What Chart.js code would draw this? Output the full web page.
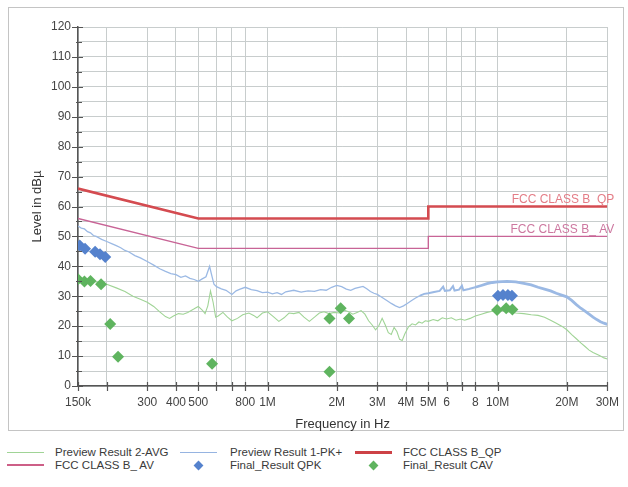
<!DOCTYPE html>
<html>
<head>
<meta charset="utf-8">
<script src="https://cdn.jsdelivr.net/npm/chart.js@4"></script>
<style>
  html,body{margin:0;padding:0;background:#fff;}
  body{width:628px;height:487px;position:relative;overflow:hidden;font-family:"Liberation Sans",Arial,sans-serif;}
  #wrap{position:absolute;left:0;top:0;width:628px;height:440px;}
  #legend{position:absolute;left:0;top:440px;width:628px;height:47px;font-size:11.5px;color:#3a3a3a;}
  .it{position:absolute;height:14px;line-height:14px;white-space:nowrap;}
  .ln{position:absolute;}
  .dm{position:absolute;width:7px;height:7px;transform:rotate(45deg);}
</style>
</head>
<body>
<div id="wrap"><canvas id="c" width="628" height="440"></canvas></div>
<div id="legend"></div>
<script>
// ---------- DATA ----------
const xGridValues = [150e3,200e3,300e3,400e3,500e3,600e3,700e3,800e3,1e6,2e6,3e6,4e6,5e6,6e6,7e6,8e6,10e6,20e6,30e6];
const xTickLabels = ['150k','','300','400','500','','','800','1M','2M','3M','4M','5M','6','','8','10M','20M','30M'];
const yMin = 0, yMax = 120, yStep = 5, yLabelStep = 10;

const qpLimitFreq  = [150e3, 500e3, 5e6, 5e6, 30e6];
const qpLimitLevel = [66, 56, 56, 60, 60];
const avLimitFreq  = [150e3, 500e3, 5e6, 5e6, 30e6];
const avLimitLevel = [56, 46, 46, 50, 50];

const pkFreq = [150e3,155e3,160e3,165e3,170e3,175e3,180e3,190e3,200e3,210e3,220e3,230e3,240e3,250e3,265e3,280e3,300e3,320e3,340e3,360e3,380e3,400e3,420e3,440e3,460e3,480e3,500e3,520e3,540e3,560e3,570e3,585e3,600e3,630e3,660e3,700e3,730e3,760e3,800e3,850e3,900e3,950e3,1.0e6,1.05e6,1.1e6,1.15e6,1.2e6,1.3e6,1.4e6,1.5e6,1.6e6,1.7e6,1.8e6,1.9e6,2.0e6,2.1e6,2.2e6,2.3e6,2.4e6,2.5e6,2.6e6,2.7e6,2.8e6,2.9e6,3.0e6,3.15e6,3.3e6,3.45e6,3.6e6,3.75e6,3.9e6,4.05e6,4.2e6,4.4e6,4.6e6,4.8e6,5.0e6,5.3e6,5.6e6,5.8e6,5.9e6,6.2e6,6.4e6,6.5e6,6.8e6,7.0e6,7.1e6,7.5e6,8.0e6,8.5e6,9.0e6,9.5e6,10e6,11e6,12e6,13e6,14e6,15e6,16e6,17e6,18e6,19e6,20e6,21e6,22e6,23e6,24e6,25e6,26e6,27e6,28e6,29e6,30e6];
const pkLevel = [53.5,52.8,52.5,51.6,51.2,50.3,50.0,49.0,48.3,47.6,46.9,46.2,45.3,44.8,43.6,42.8,41.6,40.4,39.2,38.3,37.6,37.2,36.3,36.8,36.0,35.6,35.0,35.8,36.5,40.0,37.5,34.0,33.2,32.5,32.0,30.6,31.8,32.4,33.0,32.2,31.9,31.2,31.4,30.8,31.2,30.6,31.5,32.0,31.4,31.8,31.6,32.2,32.0,33.0,33.6,33.2,32.4,32.0,32.6,33.0,33.3,32.5,31.6,31.0,30.6,29.6,28.6,27.6,26.8,26.2,26.8,27.6,28.4,29.4,30.2,30.8,31.0,31.4,31.8,33.2,31.8,32.0,33.4,31.9,32.2,33.5,32.0,32.4,33.0,33.6,34.2,34.6,34.8,35.0,34.8,34.3,33.8,33.0,32.4,31.8,31.0,30.4,29.8,28.6,27.2,26.0,25.0,24.0,23.0,22.2,21.5,21.0,20.6];

const avgFreq = [150e3,160e3,170e3,180e3,190e3,200e3,220e3,240e3,260e3,280e3,300e3,320e3,340e3,360e3,375e3,390e3,410e3,430e3,450e3,480e3,500e3,520e3,535e3,550e3,565e3,580e3,595e3,610e3,640e3,670e3,700e3,740e3,780e3,830e3,870e3,900e3,950e3,1.0e6,1.06e6,1.12e6,1.18e6,1.24e6,1.3e6,1.37e6,1.44e6,1.52e6,1.6e6,1.68e6,1.76e6,1.85e6,1.95e6,2.05e6,2.15e6,2.25e6,2.35e6,2.45e6,2.55e6,2.65e6,2.75e6,2.85e6,2.95e6,3.05e6,3.15e6,3.25e6,3.35e6,3.45e6,3.55e6,3.65e6,3.75e6,3.85e6,3.95e6,4.1e6,4.25e6,4.4e6,4.55e6,4.7e6,4.85e6,5.0e6,5.25e6,5.5e6,5.75e6,6.0e6,6.3e6,6.6e6,6.9e6,7.2e6,7.6e6,8.0e6,8.5e6,9.0e6,9.5e6,10e6,10.5e6,11e6,12e6,13e6,14e6,15e6,16e6,17e6,18e6,19e6,20e6,21e6,22e6,23e6,24e6,25e6,26e6,27e6,28e6,29e6,30e6];
const avgLevel = [36.5,35.6,35.3,34.8,34.2,34.0,32.8,31.6,30.0,29.0,28.0,26.6,24.8,23.2,22.6,23.4,24.2,24.0,24.6,25.8,26.6,25.4,24.2,26.8,31.8,28.0,23.0,23.4,24.6,23.0,21.8,22.6,23.8,24.4,23.6,22.8,24.4,24.8,23.2,21.6,22.8,24.4,24.2,24.6,23.0,21.6,23.0,24.4,24.8,24.2,24.6,24.4,25.4,24.8,24.0,24.6,25.2,24.0,21.8,20.4,18.8,20.2,22.6,20.4,17.8,17.2,19.6,18.2,15.6,15.2,17.4,19.8,20.8,20.4,21.4,21.0,21.8,21.6,22.2,21.8,22.8,22.4,22.8,22.0,22.4,22.0,22.6,23.4,24.0,24.6,25.0,25.4,25.2,24.8,24.4,24.2,23.8,23.6,23.0,22.0,21.0,20.0,18.8,17.2,15.8,14.4,13.2,12.0,11.2,10.6,10.0,9.4,9.0];

const qpkFreq  = [152.7e3, 161e3, 178e3, 187e3, 197e3, 10.04e6, 10.56e6, 11.09e6, 11.55e6];
const qpkLevel = [47.0, 45.9, 44.9, 44.0, 43.1, 30.2, 30.4, 30.4, 30.2];
const cavFreq  = [150e3, 160e3, 170e3, 189e3, 207e3, 224e3, 574e3, 1.86e6, 1.86e6, 2.08e6, 2.26e6, 9.95e6, 10.9e6, 11.6e6];
const cavLevel = [35.7, 34.9, 35.1, 34.0, 20.7, 9.8, 7.4, 4.8, 22.6, 26.0, 22.6, 25.4, 26.0, 25.6];

const limitLabels = ['FCC CLASS B_QP', 'FCC CLASS B_ AV'];
const legendItems = [
  {text:'Preview Result 2-AVG', kind:'line', color:'rgb(160,212,150)', w:1},
  {text:'Preview Result 1-PK+', kind:'line', color:'rgb(150,180,225)', w:1},
  {text:'FCC CLASS B_QP', kind:'line', color:'rgb(205,65,70)', w:3},
  {text:'FCC CLASS B_ AV', kind:'line', color:'rgb(205,95,135)', w:1.5},
  {text:'Final_Result QPK', kind:'diamond', color:'rgb(85,130,205)'},
  {text:'Final_Result CAV', kind:'diamond', color:'rgb(95,180,95)'}
];

// ---------- helpers ----------
const pts = (xs, ys) => xs.map((x, i) => ({x: x, y: ys[i]}));
const FONT = '"Liberation Sans", Arial, sans-serif';

const framePlugin = {
  id: 'frame',
  beforeDraw(chart) {
    const ctx = chart.ctx;
    ctx.save();
    ctx.fillStyle = '#fff';
    ctx.fillRect(0, 0, chart.width, chart.height);
    ctx.strokeStyle = '#c4c4c4';
    ctx.lineWidth = 1;
    ctx.strokeRect(8.5, 7.5, 615, 423);
    ctx.restore();
  },
  afterDraw(chart) {
    const ctx = chart.ctx;
    const xs = chart.scales.x, ys = chart.scales.y;
    const a = chart.chartArea;
    ctx.save();
    ctx.strokeStyle = '#555';
    ctx.lineWidth = 1.2;
    ctx.beginPath();
    xs.ticks.forEach(t => {
      const px = Math.round(xs.getPixelForValue(t.value)) + 0.5;
      ctx.moveTo(px, a.bottom - 4);
      ctx.lineTo(px, a.bottom + 5);
    });
    ys.ticks.forEach(t => {
      const py = Math.round(ys.getPixelForValue(t.value)) + 0.5;
      const major = t.value % yLabelStep === 0;
      ctx.moveTo(a.left - (major ? 6 : 2), py);
      ctx.lineTo(a.left + (major ? 5 : 4), py);
    });
    ctx.stroke();
    // limit labels
    ctx.font = '12px ' + FONT;
    ctx.textAlign = 'right';
    ctx.textBaseline = 'alphabetic';
    ctx.fillStyle = 'rgb(228,125,135)';
    ctx.fillText(limitLabels[0], a.right + 7, ys.getPixelForValue(qpLimitLevel[4]) - 4);
    ctx.fillStyle = 'rgb(205,120,160)';
    ctx.fillText(limitLabels[1], a.right + 7, ys.getPixelForValue(avLimitLevel[4]) - 3.5);
    ctx.restore();
  }
};

const diamond = (color) => ({
  type: 'scatter', showLine: false, pointStyle: 'rectRot', pointRadius: 6,
  pointBackgroundColor: color, pointBorderColor: color, pointBorderWidth: 0
});

new Chart(document.getElementById('c'), {
  type: 'line',
  data: {
    datasets: [
      Object.assign({label: 'Final_Result QPK', data: pts(qpkFreq, qpkLevel)}, diamond('rgb(85,130,205)')),
      Object.assign({label: 'Final_Result CAV', data: pts(cavFreq, cavLevel)}, diamond('rgb(95,180,95)')),
      {label: 'FCC CLASS B_QP', data: pts(qpLimitFreq, qpLimitLevel), borderColor: 'rgb(212,75,80)', borderWidth: 2.6, pointRadius: 0, tension: 0},
      {label: 'FCC CLASS B_ AV', data: pts(avLimitFreq, avLimitLevel), borderColor: 'rgb(200,100,150)', borderWidth: 1.4, pointRadius: 0, tension: 0},
      {label: 'Preview Result 2-AVG', data: pts(avgFreq, avgLevel), borderColor: 'rgb(160,212,150)', borderWidth: 1.1, pointRadius: 0, tension: 0},
      {label: 'Preview Result 1-PK+', data: pts(pkFreq, pkLevel), borderColor: 'rgb(155,185,228)', borderWidth: 1.3, pointRadius: 0, tension: 0,
        segment: { borderWidth: c => (c.p0.parsed.x >= 8e6 ? 2.8 : (c.p0.parsed.x >= 4.5e6 ? 2 : 1.3)) }}
    ]
  },
  options: {
    responsive: false,
    animation: false,
    events: [],
    layout: { padding: { left: 0, right: 18, top: 27, bottom: 0 } },
    plugins: { legend: { display: false }, tooltip: { enabled: false } },
    scales: {
      x: {
        type: 'logarithmic', min: xGridValues[0], max: xGridValues[xGridValues.length - 1],
        afterBuildTicks: s => { s.ticks = xGridValues.map(v => ({value: v})); },
        afterFit: s => { s.height = 54; },
        ticks: {
          autoSkip: false, maxRotation: 0, minRotation: 0, padding: 9,
          color: '#444', font: { family: FONT, size: 12 },
          callback: (v, i) => xTickLabels[i]
        },
        grid: { color: 'rgb(200,205,205)', lineWidth: 1, drawTicks: false },
        border: { color: '#555', width: 1.5 },
        title: { display: true, text: 'Frequency in Hz', color: '#333', font: { family: FONT, size: 13 }, padding: { top: 0, bottom: 8 } }
      },
      y: {
        min: yMin, max: yMax,
        afterFit: s => { s.width = 78; },
        ticks: {
          stepSize: yStep, autoSkip: false, padding: 7,
          color: '#444', font: { family: FONT, size: 12 },
          callback: v => (v % yLabelStep === 0 ? String(v) : '')
        },
        grid: { color: 'rgb(200,205,205)', lineWidth: 1, drawTicks: false },
        border: { color: '#555', width: 1.5 },
        title: { display: true, text: 'Level in dBµ', color: '#333', font: { family: FONT, size: 13 }, padding: { top: 30, bottom: 0 } }
      }
    }
  },
  plugins: [framePlugin]
});

// ---------- legend (HTML) ----------
const legendCols = [{ln: 7, tx: 55}, {ln: 180, tx: 230}, {ln: 355, tx: 403}];
const legendRows = [452, 465];
const lg = document.getElementById('legend');
legendItems.forEach((it, i) => {
  const col = legendCols[i % 3], rowY = legendRows[Math.floor(i / 3)] - 440;
  if (it.kind === 'line') {
    const d = document.createElement('div');
    d.className = 'ln';
    d.style.left = col.ln + 'px'; d.style.width = '37px';
    d.style.top = (rowY - it.w / 2) + 'px'; d.style.height = it.w + 'px';
    d.style.background = it.color;
    lg.appendChild(d);
  } else {
    const d = document.createElement('div');
    d.className = 'dm';
    d.style.left = (col.ln + 18.5 - 3.5) + 'px'; d.style.top = (rowY - 3.5) + 'px';
    d.style.background = it.color;
    lg.appendChild(d);
  }
  const t = document.createElement('div');
  t.className = 'it';
  t.style.left = col.tx + 'px'; t.style.top = (rowY - 7) + 'px';
  t.textContent = it.text;
  lg.appendChild(t);
});
</script>
</body>
</html>
